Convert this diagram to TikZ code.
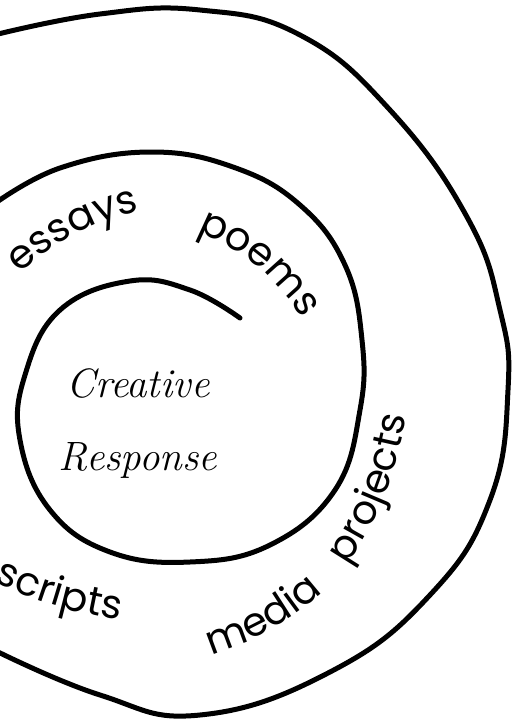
\documentclass[tikz,border=0pt]{standalone}
\usepackage{fontspec}
\usepackage{tikz}
\usetikzlibrary{positioning, decorations.text}
\newfontfamily\handfont{Poppins}
\newcommand{\wordfont}{\handfont\fontsize{40}{44}\selectfont}
\newcommand{\centerfont}{\fontsize{41}{48}\selectfont\itshape}

\begin{document}
\begin{tikzpicture}[x=1pt, y=1pt,
    ring/.style={line width=5pt, line cap=round, line join=round},
    word/.style={decorate, decoration={text along path, text align=center,
        text={|\wordfont|#1}}},
    middle/.style={font=\centerfont, anchor=base, inner sep=0pt}]
   \useasboundingbox (0,0) rectangle (512,-721);

   % outer ring
   \draw[ring] plot[smooth, tension=0.75] coordinates {
     (-6,-35) (100,-14) (200,-10) (300,-35) (390,-110) (467,-217)
     (500,-310) (508,-390) (490,-500) (430,-595) (330,-672) (200,-715)
     (100,-695) (-6,-650)};

   % spiral: middle ring running into the inner ring
   \draw[ring] plot[smooth, tension=0.7] coordinates {
     (-6,-204) (60,-168) (150,-152) (233,-167) (300,-205) (345,-265)
     (362,-340) (360,-410) (335,-490) (270,-545) (190,-562) (110,-552)
     (50,-510) (20,-440) (25,-375) (60,-310) (130,-281) (190,-290)
     (240,-318)};

   % centre text
   \node[middle] (creative) at (138,-397) {Creative};
   \node[middle] (response) [below=73pt of creative.base, anchor=base] {Response};

   % words on the rings
   \path[word=essays] (4,-288) to[bend left=16] (160,-206);
   \path[word=poems] (170,-222) to[bend left=23] (316,-344);
   \path[word=projects] (330,-590) to[bend right=15] (410,-386);
   \path[word=media] (186,-662) to[bend right=15] (342,-574);
   \path[word=scripts] (-28,-571) to[bend right=10] (144,-623);
\end{tikzpicture}
\end{document}
